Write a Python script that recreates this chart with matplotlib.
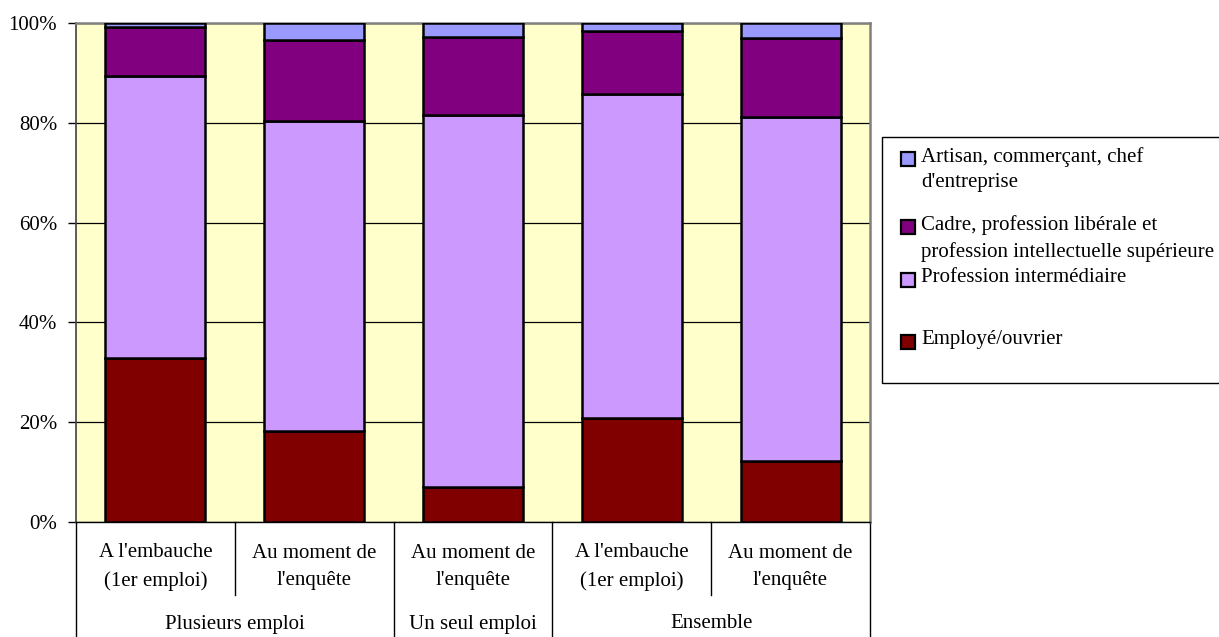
import matplotlib.pyplot as plt
import matplotlib.patches as patches
import numpy as np

# categories (bottom level and group level)
sub_labels = ["A l'embauche\n(1er emploi)", "Au moment de\nl'enquête", "Au moment de\nl'enquête",
              "A l'embauche\n(1er emploi)", "Au moment de\nl'enquête"]
group_labels = ["Plusieurs emploi", "Un seul emploi", "Ensemble"]
group_sizes = [2, 1, 2]

# series values (%), stacked bottom to top
employe = [32.9, 18.3, 7.0, 20.9, 12.3]
prof_inter = [56.5, 62.1, 74.6, 64.8, 68.9]
cadre = [9.7, 16.2, 15.6, 12.6, 15.7]
artisan = [0.9, 3.4, 2.8, 1.7, 3.1]

series = [employe, prof_inter, cadre, artisan]
series_names = ["Employé/ouvrier", "Profession intermédiaire",
                "Cadre, profession libérale et\nprofession intellectuelle supérieure",
                "Artisan, commerçant, chef\nd'entreprise"]
colors = ["#800000", "#CC99FF", "#800080", "#9999FF"]

plt.rcParams['font.family'] = ['Liberation Serif', 'DejaVu Serif']
FS = 15

W, H = 1219, 637
fig = plt.figure(figsize=(W / 100, H / 100), dpi=100)
ax = fig.add_axes([76 / W, 1 - 522 / H, (870 - 76) / W, (522 - 23) / H])
ax.set_facecolor("#FFFFCC")

x = np.arange(len(sub_labels))
bottom = np.zeros(len(x))
for vals, col in zip(series, colors):
    ax.bar(x, vals, 0.63, bottom=bottom, color=col, edgecolor="black", linewidth=1.8, zorder=3)
    bottom += np.array(vals)

ax.set_xlim(-0.5, len(x) - 0.5)
ax.set_ylim(0, 100)
ax.set_yticks([0, 20, 40, 60, 80, 100])
ax.set_yticklabels([f"{v}%" for v in [0, 20, 40, 60, 80, 100]], fontsize=FS)
ax.yaxis.grid(True, color="black", linewidth=0.9, zorder=0)
ax.tick_params(axis="y", length=5.5, width=1, pad=8)
ax.set_xticks([])
for s in ["top", "right"]:
    ax.spines[s].set_color("#808080")
    ax.spines[s].set_linewidth(1.8)
ax.spines["left"].set_color("#404040")
ax.spines["left"].set_linewidth(1.2)
ax.spines["bottom"].set_linewidth(1.0)

# two-level category axis
ppx = 522 - 23
tr = ax.get_xaxis_transform()
short_y = -(595 - 522) / ppx
long_y = -(640 - 522) / ppx
for i, lab in enumerate(sub_labels):
    ax.text(i, -(567 - 522) / ppx, lab, transform=tr, ha="center", va="center",
            fontsize=FS, linespacing=1.6)
bounds = np.cumsum([0] + group_sizes) - 0.5
for i in range(len(x) + 1):
    xb = i - 0.5
    yb = long_y if xb in bounds else short_y
    ax.plot([xb, xb], [0, yb], transform=tr, color="black", linewidth=1.0, clip_on=False)
for g, lab in enumerate(group_labels):
    ax.text((bounds[g] + bounds[g + 1]) / 2, -(624 - 522) / ppx, lab, transform=tr,
            ha="center", va="center", fontsize=FS)

# legend box drawn like the spreadsheet legend
fig.patches.append(patches.Rectangle((882 / W, 1 - 383 / H), (1240 - 882) / W, (383 - 137) / H,
                                     transform=fig.transFigure, facecolor="white",
                                     edgecolor="black", linewidth=1.0))
first_line_y = [342, 280, 227, 159]
for name, col, yl in zip(series_names, colors, first_line_y):
    fig.patches.append(patches.Rectangle((901 / W, 1 - (yl + 7) / H), 14 / W, 14 / H,
                                         transform=fig.transFigure, facecolor=col,
                                         edgecolor="black", linewidth=1.6))
    fig.text(921 / W, 1 - (yl - 12) / H, name, ha="left", va="top", fontsize=FS,
             linespacing=1.45)

fig.savefig("out.png", dpi=100)
